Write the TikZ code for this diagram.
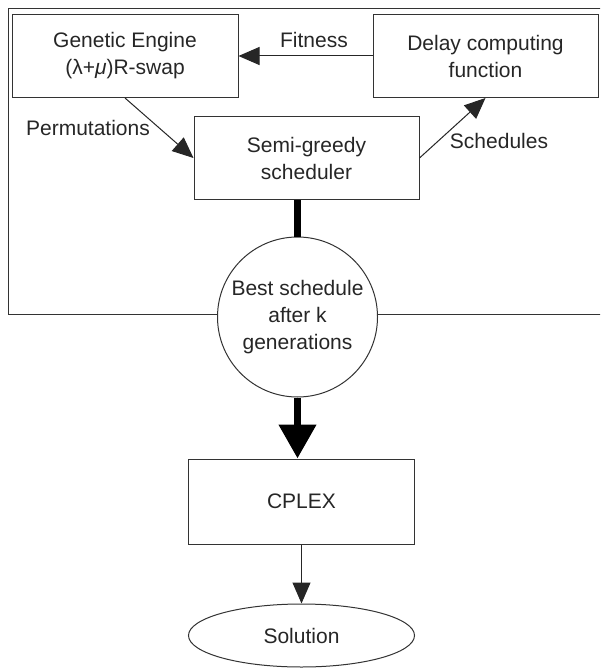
\documentclass[tikz,border=0pt]{standalone}
\usepackage{fontspec}
\setmainfont{Liberation Sans}
\usetikzlibrary{arrows.meta,shapes.geometric}

\begin{document}
\begin{tikzpicture}[x=1pt,y=-1pt,
		font=\fontsize{21}{27}\selectfont, text=black!85,
		box/.style={draw=black!80, line width=1pt, rectangle, minimum width=226pt, minimum height=83pt, inner sep=0pt, align=center},
		lnk/.style={draw=black!85, line width=1pt, -{Triangle[length=21pt,width=18pt]}},
		fat/.style={draw=black, line width=7.5pt}
	]
		\useasboundingbox (0,0) rectangle (600,668);
		\clip (0,0) rectangle (600,668);
		\draw[black!80, line width=1pt] (8,9) rectangle (610,314);
		\node (1)[box] at (125,56) {Genetic Engine\\(λ+{\itshape μ})R-swap};
		\node (2)[box, minimum width=225pt] at (485.5,56) {Delay computing\\function};
		\node (3)[box, minimum width=225pt] at (306.5,158) {Semi-greedy\\scheduler};
		\node (4)[draw=black!80, line width=1pt, circle, fill=white, minimum size=160pt, inner sep=0pt, align=center] at (297.5,317) {Best schedule\\after k\\generations};
		\node (5)[box, minimum height=85pt] at (301.5,501.5) {CPLEX};
		\node (6)[draw=black!80, line width=1pt, ellipse, minimum width=226pt, minimum height=63pt, inner sep=0pt] at (301.5,635.5) {Solution};
		\node (7) at (314,40) {Fitness};
		\node (8) at (88,128) {Permutations};
		\node (9) at (499,141) {Schedules};
		\draw[lnk] (2)--(1);
		\draw[lnk] (1.south)--(3.west);
		\draw[lnk] (3.east)--(2.south);
		\draw[fat] (4.north |- 3.south)--(4.north);
		\draw[fat, -{Triangle[length=34pt,width=36pt]}] (4.south)--(4.south |- 5.north);
		\draw[lnk] (5)--(6);
	\end{tikzpicture}
\end{document}
